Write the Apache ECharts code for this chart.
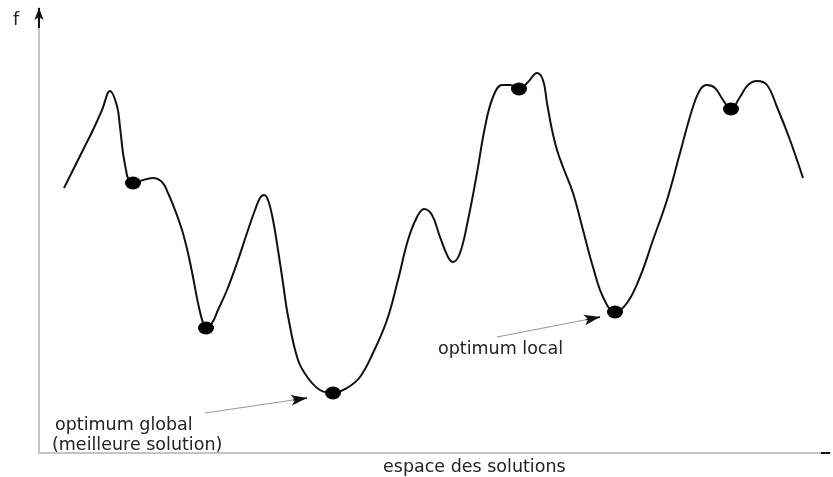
<!DOCTYPE html>
<html>
<head>
<meta charset="utf-8">
<script src="https://cdn.jsdelivr.net/npm/echarts@6/dist/echarts.min.js"></script>
<style>
html, body { margin: 0; padding: 0; background: #fff; }
#main { width: 833px; height: 477px; }
</style>
</head>
<body>
<div id="main"></div>
<script>
// courbe f sur l'espace des solutions (unites arbitraires)
var curveX = [25, 34, 44, 54, 63, 71, 78, 81, 84, 87, 89, 94, 101, 114, 123, 129, 136, 143, 149, 154, 159, 164, 167,
              173, 179, 188, 198, 208, 216, 221, 225, 229, 234, 239, 244, 249, 259, 269, 281, 294,
              308, 321, 334, 348, 359, 369, 378, 385, 393, 401, 409, 414, 421, 429, 438, 446, 454, 463, 471, 480, 489, 498,
              504, 508, 513, 518, 524, 534, 544, 554, 564, 576,
              588, 601, 614, 628, 641, 653, 661, 668, 676, 684, 692, 701, 709, 718, 728, 738, 751, 764];
var curveF = [265, 283, 303, 323, 343, 362, 347, 326, 300, 283, 275, 270, 272, 275, 271, 260, 243, 223, 200, 176, 150, 130, 125,
              130, 143, 163, 190, 220, 243, 255, 258, 253, 233, 203, 170, 137, 93, 75, 63, 60,
              65, 76, 100, 133, 173, 213, 236, 244, 238, 216, 196, 191, 200, 233, 280, 326, 356, 368, 368, 364, 371, 380,
              373, 350, 323, 303, 286, 260, 223, 186, 156, 141,
              150, 176, 213, 253, 300, 343, 363, 368, 365, 353, 344, 356, 368, 372, 368, 346, 313, 275];

// optima marques
var optX = [94, 167, 294, 480, 576, 692];
var optF = [270, 125, 60, 364, 141, 344];

// fleches d'annotation [debut, fin]
var arrowGlobal = [[166, 40], [268, 55]];
var arrowLocal = [[458, 116], [561, 136]];

var myChart = echarts.init(document.getElementById('main'));

var curveData = curveX.map(function (x, i) { return [x, curveF[i]]; });
var optData = optX.map(function (x, i) { return [x, optF[i]]; });

function arrowItems(a) {
    var dx = a[1][0] - a[0][0], dy = a[1][1] - a[0][1];
    var len = Math.sqrt(dx * dx + dy * dy);
    var head = [a[1][0] - dx / len * 14, a[1][1] - dy / len * 14];
    return [
        [{coord: a[0], symbol: 'none', lineStyle: {color: '#999', width: 1.2, type: 'solid'}}, {coord: a[1], symbol: 'none'}],
        [{coord: head, symbol: 'none', lineStyle: {color: '#111', width: 1.5, type: 'solid'}}, {coord: a[1], symbol: 'arrow', symbolSize: [8, 16]}]
    ];
}

var txtFont = '17.5px "DejaVu Sans"';

var option = {
    animation: false,
    grid: {left: 39, right: 3, top: 8, bottom: 24},
    xAxis: {
        type: 'value',
        min: 0,
        max: 791,
        axisLine: {lineStyle: {color: '#c4c4c4', width: 2}},
        axisTick: {show: false},
        axisLabel: {show: false},
        splitLine: {show: false}
    },
    yAxis: {
        type: 'value',
        min: 0,
        max: 445,
        axisLine: {show: true, lineStyle: {color: '#c4c4c4', width: 2}},
        axisTick: {show: false},
        axisLabel: {show: false},
        splitLine: {show: false}
    },
    graphic: [
        {type: 'text', left: 13, top: 11, style: {text: 'f', font: txtFont, fill: '#222'}},
        {type: 'text', left: 383, top: 458, style: {text: 'espace des solutions', font: txtFont, fill: '#222'}},
        {type: 'text', left: 55, top: 416, style: {text: 'optimum global', font: txtFont, fill: '#222'}},
        {type: 'text', left: 52, top: 436, style: {text: '(meilleure solution)', font: txtFont, fill: '#222'}},
        {type: 'text', left: 438, top: 340, style: {text: 'optimum local', font: txtFont, fill: '#222'}}
    ],
    series: [
        {
            type: 'line',
            data: curveData,
            smooth: 0.4,
            showSymbol: false,
            clip: false,
            lineStyle: {color: '#111', width: 2},
            markLine: {
                silent: true,
                label: {show: false},
                animation: false,
                data: arrowItems(arrowGlobal).concat(arrowItems(arrowLocal)).concat([
                    [{coord: [0, 425], symbol: 'none', lineStyle: {color: '#111', width: 2, type: 'solid'}}, {coord: [0, 445], symbol: 'arrow', symbolSize: [7, 12]}],
                    [{coord: [782, 0], symbol: 'none', lineStyle: {color: '#111', width: 2, type: 'solid'}}, {coord: [791, 0], symbol: 'none'}]
                ])
            }
        },
        {
            type: 'scatter',
            data: optData,
            symbol: 'circle',
            symbolSize: [16, 13],
            itemStyle: {color: '#000', opacity: 1},
            z: 3
        }
    ]
};
myChart.setOption(option);
</script>
</body>
</html>
